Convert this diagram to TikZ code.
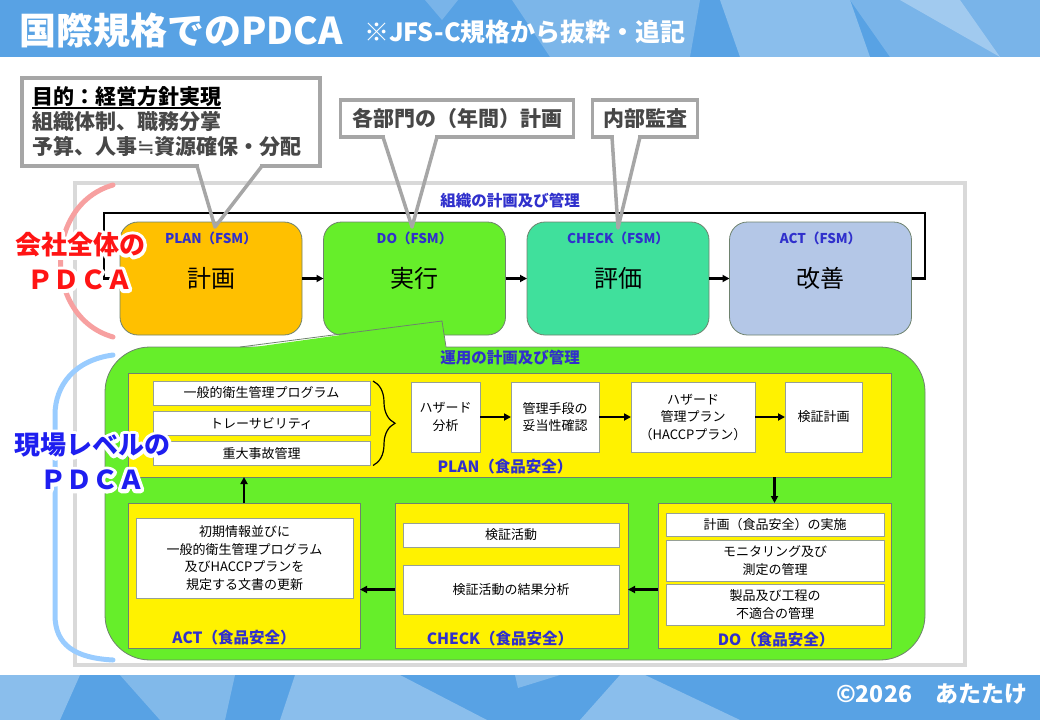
\documentclass[tikz,border=0pt]{standalone}
\usepackage{fontspec}
\setmainfont{Noto Sans CJK JP}
\newfontfamily\symfont{DejaVu Sans}
\usetikzlibrary{arrows.meta,decorations.pathreplacing}
\newcommand{\fsz}[2]{\fontsize{#1}{#2}\selectfont}
\newcommand{\halo}[1]{\special{pdf:literal direct 1 1 1 RG 7 w 1 j 2 Tr}#1\special{pdf:literal direct 0 Tr 1 w}}
\newcommand{\uln}[1]{\setbox0\hbox{#1}\rlap{\raisebox{-3.8pt}{\rule{\wd0}{1.7pt}}}\box0}
\definecolor{barblue}{RGB}{88,162,228}
\definecolor{calloutgray}{RGB}{166,166,166}
\definecolor{framegray}{RGB}{217,217,217}
\definecolor{boxedge}{RGB}{110,130,110}
\definecolor{itemedge}{RGB}{150,160,150}
\definecolor{tagblue}{RGB}{48,48,204}
\definecolor{planorange}{RGB}{255,192,0}
\definecolor{dogreen}{RGB}{102,238,42}
\definecolor{checkteal}{RGB}{64,224,156}
\definecolor{actblue}{RGB}{180,199,231}
\definecolor{arcred}{RGB}{247,160,160}
\definecolor{arcblue}{RGB}{153,204,255}
\definecolor{sidered}{RGB}{255,20,20}
\definecolor{sideblue}{RGB}{30,30,240}
\begin{document}
\begin{tikzpicture}[x=1pt, y=-1pt,
  every node/.style={inner sep=1pt, outer sep=0pt},
  fsmbox/.style={draw=boxedge, line width=0.8pt, rounded corners=18pt, minimum width=182pt, minimum height=113pt, font=\fsz{24}{28}},
  fsmtag/.style={text=tagblue, font=\bfseries\fsz{13.5}{16}},
  sectag/.style={text=tagblue, font=\bfseries\fsz{15.5}{18}},
  secbox/.style={draw=boxedge, line width=0.8pt, fill=yellow},
  itembox/.style={draw=itemedge, line width=0.8pt, fill=white, align=center, font=\fsz{13}{17.5}},
  flowarrow/.style={-{Triangle[length=7pt,width=7pt]}, line width=2.2pt},
  calloutbox/.style={draw=calloutgray, line width=3.5pt, fill=white, text=black!72, font=\bfseries\fsz{21}{25}},
  tailline/.style={draw=calloutgray, line width=3.5pt, line join=round},
  sidetag/.style={font=\bfseries\fsz{26}{35}, align=center}]
\useasboundingbox (0,0) rectangle (1040,720);
% bars
\fill[barblue] (0,0) rectangle (1040,57);
\fill[white, opacity=0.22] (512,0) -- (700,0) -- (690,57) -- (550,57) -- cycle;
\fill[white, opacity=0.3] (720,0) -- (850,0) -- (870,57) -- (740,57) -- cycle;
\fill[white, opacity=0.2] (850,0) -- (1040,0) -- (1040,57) -- (890,57) -- cycle;
\fill[white, opacity=0.3] (900,0) -- (960,0) -- (1000,57) -- cycle;
\fill[white, opacity=0.2] (425,0) -- (458,0) -- (442,20) -- cycle;
\fill[barblue] (0,675) rectangle (1040,720);
\fill[white, opacity=0.3] (0,675) -- (80,675) -- (60,720) -- (0,720) -- cycle;
\fill[white, opacity=0.25] (120,675) -- (235,675) -- (225,720) -- (160,720) -- cycle;
\fill[white, opacity=0.3] (295,675) -- (400,675) -- (487,720) -- (280,720) -- cycle;
\fill[white, opacity=0.25] (515,675) -- (560,675) -- (518,688) -- cycle;
\fill[white, opacity=0.3] (580,720) -- (620,675) -- (645,675) -- (740,720) -- cycle;
\node[anchor=west, text=white, font=\bfseries\fsz{37}{37}] (title) at (18,30) {国際規格でのPDCA};
\node[anchor=west, text=white, font=\bfseries\fsz{25}{25}] (subtitle) at (363,32) {※JFS-C規格から抜粋・追記};
\node[anchor=east, text=white, font=\bfseries\fsz{23}{23}] (credit) at (1028,694) {©2026　あたたけ};
% company level
\draw[framegray, line width=3.5pt] (75,183) rectangle (965,665);
\foreach \n/\x/\c/\t/\m in {fplan/211/planorange/PLAN/計画, fdo/414.5/dogreen/DO/実行, fcheck/618/checkteal/CHECK/評価, fact/820.5/actblue/ACT/改善} {
  \node[fsmbox, fill=\c] (\n) at (\x,278.5) {\m};
  \node[fsmtag] (\n tag) at (\x,238) {\t（FSM）};
}
\foreach \a/\b in {fplan/fdo, fdo/fcheck, fcheck/fact} \draw[flowarrow] (\a) -- (\b);
\coordinate (loopR) at (925,213);
\coordinate (loopL) at (104,213);
\draw[flowarrow] (fact.east) -| (loopR) -- (loopL) |- (fplan.west);
\node[sectag, fill=white] (orgtag) at (510,201) {組織の計画及び管理};
% site level
\node[draw=boxedge, line width=0.8pt, fill=dogreen, rounded corners=45pt, minimum width=820pt, minimum height=313pt] (ops) at (515,503.5) {};
\coordinate (dotip) at (442,321);
\fill[dogreen] (240,349) -- (dotip) -- (446,349) -- cycle;
\draw[boxedge, line width=0.8pt] (240,347) -- (dotip) -- (446,347);
\node[sectag] (opstag) at (510,358) {運用の計画及び管理};
\node[secbox, minimum width=763pt, minimum height=104pt] (fsplan) at (509.5,425) {};
\node[secbox, minimum width=232pt, minimum height=145pt] (fsact) at (244,575.5) {};
\node[secbox, minimum width=233pt, minimum height=145pt] (fscheck) at (511.5,575.5) {};
\node[secbox, minimum width=233pt, minimum height=145pt] (fsdo) at (774.5,575.5) {};
\node[sectag] (fsplantag) at (505,467) {PLAN（食品安全）};
\node[sectag] (fsacttag) at (234,638) {ACT（食品安全）};
\node[sectag] (fschecktag) at (500,639) {CHECK（食品安全）};
\node[sectag] (fsdotag) at (776,640) {DO（食品安全）};
\foreach \n/\y/\t in {gen/393/一般的衛生管理プログラム, trace/423.5/トレーサビリティ, crisis/453.5/重大事故管理}
  \node[itembox, minimum width=217pt, minimum height=24pt] (\n) at (261.5,\y) {\t};
\draw[decorate, decoration={brace, amplitude=22pt}, line width=1.2pt] ([xshift=3pt]gen.north east) -- ([xshift=3pt]crisis.south east);
\node[itembox, minimum width=69pt, minimum height=70pt] (hazard) at (445.5,417) {ハザード\\分析};
\node[itembox, minimum width=88pt, minimum height=70pt] (valid) at (555,417) {管理手段の\\妥当性確認};
\node[itembox, minimum width=124pt, minimum height=70pt] (hplan) at (693,417) {ハザード\\管理プラン\\（HACCPプラン）};
\node[itembox, minimum width=77pt, minimum height=70pt] (vplan) at (823.5,417) {検証計画};
\foreach \a/\b in {hazard/valid, valid/hplan, hplan/vplan} \draw[flowarrow] (\a) -- (\b);
\node[itembox, minimum width=217pt, minimum height=80pt] (update) at (244.5,558) {初期情報並びに\\一般的衛生管理プログラム\\及びHACCPプランを\\規定する文書の更新};
\node[itembox, minimum width=216pt, minimum height=24pt] (verif) at (511,535) {検証活動};
\node[itembox, minimum width=216pt, minimum height=49pt] (vresult) at (511,589.5) {検証活動の結果分析};
\node[itembox, minimum width=218pt, minimum height=23pt] (exec) at (775,524.5) {計画（食品安全）の実施};
\node[itembox, minimum width=218pt, minimum height=41pt] (monitor) at (775,560.5) {モニタリング及び\\測定の管理};
\node[itembox, minimum width=218pt, minimum height=41pt] (nonconf) at (775,604.5) {製品及び工程の\\不適合の管理};
\draw[flowarrow] (fsplan.south -| fsdo.north) -- (fsdo.north);
\draw[flowarrow] (fsdo.west |- vresult) -- (fscheck.east |- vresult);
\draw[flowarrow] (fscheck.west |- vresult) -- (fsact.east |- vresult);
\draw[flowarrow] (fsact.north) -- (fsact.north |- fsplan.south);
% side marks
\draw[arcred, line width=5pt, line cap=round] (113,185) .. controls (43,205) and (43,317) .. (113,337);
\draw[arcblue, line width=5pt, line cap=round] (113,355) .. controls (75,360) and (55,385) .. (55,415) -- (55,615) .. controls (55,645) and (75,658) .. (113,660);
\node[sidetag, text=white] (firmglow) at (80,261) {\halo{会社全体の}\\\halo{ＰＤＣＡ}};
\node[sidetag, text=sidered] (firm) at (80,261) {会社全体の\\ＰＤＣＡ};
\node[sidetag, text=white] (siteglow) at (92,461.5) {\halo{現場レベルの}\\\halo{ＰＤＣＡ}};
\node[sidetag, text=sideblue] (site) at (92,461.5) {現場レベルの\\ＰＤＣＡ};
% callouts
\node[calloutbox, minimum width=298pt, minimum height=88pt, text width=278pt, align=left] (goal) at (171,122) {\textcolor{black}{\uln{目的：経営方針実現}}\\組織体制、職務分掌\\予算、人事{\symfont\mdseries ≒}資源確保・分配};
\node[calloutbox, minimum width=233pt, minimum height=37pt] (dept) at (457,118.5) {各部門の（年間）計画};
\node[calloutbox, minimum width=105pt, minimum height=37pt] (audit) at (645,118.5) {内部監査};
\coordinate (goaltip) at (215,227);
\coordinate (depttip) at (412,227);
\coordinate (audittip) at (618,228);
\fill[white] ([xshift=28pt,yshift=3pt]goal.south) rectangle ([xshift=89pt,yshift=-3pt]goal.south);
\draw[tailline] ([xshift=26pt]goal.south) -- (goaltip) -- ([xshift=91pt]goal.south);
\fill[white] ([xshift=-72pt,yshift=3pt]dept.south) rectangle ([xshift=-22pt,yshift=-3pt]dept.south);
\draw[tailline] ([xshift=-74pt]dept.south) -- (depttip) -- ([xshift=-20pt]dept.south);
\fill[white] ([xshift=-31pt,yshift=3pt]audit.south) rectangle ([xshift=-7pt,yshift=-3pt]audit.south);
\draw[tailline] ([xshift=-33pt]audit.south) -- (audittip) -- ([xshift=-5pt]audit.south);
\end{tikzpicture}
\end{document}
